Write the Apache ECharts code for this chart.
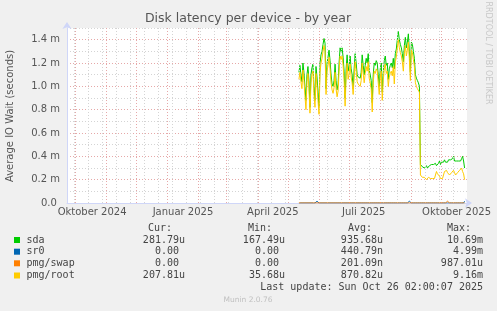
<!DOCTYPE html>
<html>
<head>
<meta charset="utf-8">
<script src="https://cdn.jsdelivr.net/npm/echarts@6/dist/echarts.min.js"></script>
<style>
html,body{margin:0;padding:0;background:#F0F0F0;}
#chart{width:497px;height:311px;}
</style>
</head>
<body>
<div id="chart"></div>
<script>
// x values are days counted from 1 Oct 2024; one sample per day starting at startDay
const startDay = 223;

const sda = [
1.12,1.18,1.10,1.04,1.20,1.12,1.00,0.88,1.10,1.17,
1.05,0.82,1.10,1.16,1.19,1.00,0.88,1.17,1.08,0.95,
0.82,1.20,1.27,1.30,1.36,1.41,1.37,0.98,1.20,1.25,
1.31,1.22,1.10,1.02,1.00,1.05,1.19,1.05,0.97,1.02,
1.20,1.33,1.30,1.33,1.25,1.13,0.90,1.15,1.27,1.13,
1.18,1.26,1.15,1.10,0.98,1.15,1.28,1.20,1.10,1.08,
1.09,1.07,1.12,1.27,1.18,1.10,1.18,1.24,1.20,1.28,
1.14,1.10,1.05,0.86,1.10,1.20,1.18,1.22,1.20,1.10,
1.00,1.15,1.20,0.95,1.12,1.22,1.26,1.18,1.20,1.06,
1.15,1.18,1.20,1.16,1.24,1.15,1.28,1.32,1.40,1.47,
1.40,1.36,1.33,1.28,1.21,1.35,1.42,1.33,1.38,1.45,
1.30,1.12,1.38,1.36,1.30,1.24,1.10,1.07,1.05,1.03,
1.00,0.33,0.32,0.31,0.32,0.30,0.31,0.32,0.30,0.31,
0.32,0.31,0.33,0.32,0.33,0.32,0.34,0.32,0.33,0.34,
0.36,0.33,0.35,0.36,0.35,0.37,0.35,0.36,0.35,0.37,
0.36,0.37,0.36,0.38,0.40,0.36,0.37,0.36,0.37,0.36,
0.37,0.36,0.38,0.40,0.36,0.30
];

const sr0 = [
0,0,0,0,0,0,0,0,0,0,
0,0,0,0,0,0,0,0,0.015,0,
0,0,0,0,0,0,0,0,0,0,
0,0,0,0,0,0,0,0.015,0,0,
0,0,0,0,0,0,0,0,0,0,
0,0,0,0,0,0,0,0,0,0,
0,0,0,0,0,0,0,0,0,0,
0,0,0,0,0,0,0,0,0,0,
0,0,0,0,0,0,0,0,0,0,
0,0,0,0,0,0,0,0,0,0,
0,0,0,0,0,0,0,0,0,0,
0.015,0,0,0,0,0,0,0,0,0,
0,0,0,0,0,0,0,0,0,0,
0,0,0,0,0,0,0,0,0,0,
0,0,0,0,0,0,0,0,0,0,
0,0,0,0,0,0,0,0,0,0,
0,0,0,0,0,0.015
];

const pmgSwap = [
0,0,0,0,0,0,0,0,0,0,
0,0,0,0,0,0,0,0,0,0,
0,0,0,0,0,0,0,0,0,0,
0,0,0,0,0,0,0,0,0,0,
0,0,0,0,0,0,0,0,0,0,
0,0,0,0,0,0,0,0,0,0,
0,0,0,0,0,0,0,0,0,0,
0,0,0,0,0,0,0,0,0,0,
0,0,0,0,0,0,0,0,0,0,
0,0,0,0,0,0,0,0,0,0,
0,0,0,0,0,0,0,0,0,0,
0,0,0,0,0,0,0,0,0,0,
0,0.015,0,0,0,0,0,0,0,0,
0,0,0,0,0,0,0,0,0,0,
0,0,0,0,0,0,0,0,0.015,0,
0,0,0,0,0,0,0,0,0,0,
0,0,0,0,0,0
];

const pmgRoot = [
1.06,1.12,1.04,0.98,1.14,1.05,0.92,0.80,1.04,1.11,
0.98,0.77,1.03,1.10,1.13,0.93,0.82,1.11,1.00,0.88,
0.76,1.12,1.20,1.24,1.30,1.35,1.30,0.93,1.13,1.18,
1.25,1.15,1.03,0.97,0.94,0.99,1.12,0.98,0.91,0.96,
1.13,1.26,1.23,1.26,1.18,1.06,0.83,1.08,1.20,1.06,
1.11,1.19,1.08,1.03,0.93,1.08,1.21,1.13,1.04,1.02,
1.03,1.00,1.05,1.20,1.11,1.03,1.11,1.17,1.13,1.21,
1.07,1.03,0.98,0.78,1.03,1.13,1.11,1.15,1.13,1.03,
0.93,1.08,1.13,0.88,1.05,1.15,1.19,1.11,1.13,1.00,
1.08,1.11,1.13,1.09,1.17,1.02,1.21,1.25,1.33,1.40,
1.33,1.29,1.26,1.21,1.13,1.28,1.35,1.26,1.31,1.38,
1.23,1.05,1.31,1.29,1.23,1.17,1.03,1.00,0.98,0.97,
0.95,0.24,0.24,0.22,0.21,0.22,0.21,0.20,0.21,0.22,
0.21,0.21,0.22,0.21,0.22,0.21,0.21,0.27,0.25,0.25,
0.23,0.21,0.22,0.21,0.22,0.27,0.27,0.28,0.26,0.25,
0.24,0.24,0.26,0.27,0.28,0.26,0.24,0.25,0.26,0.27,
0.28,0.28,0.30,0.27,0.25,0.20
];

// calendar grid (days from 1 Oct 2024)
const monthStartDays = [0,31,61,92,123,151,182,212,243,273,304,335,365];
const biweekDays = [-1,13,27,41,55,69,83,97,111,125,139,153,167,181,195,209,223,237,251,265,279,293,307,321,335,349,363,377];

const xTickDays = [17,107.5,197,287.5,380];
const xTickLabels = ['Oktober 2024','Januar 2025','April 2025','Juli 2025','Oktober 2025'];

const yTickValues = [0,0.2,0.4,0.6,0.8,1.0,1.2,1.4];
const yTickLabels = ['0.0 ','0.2 m','0.4 m','0.6 m','0.8 m','1.0 m','1.2 m','1.4 m'];

const legendNames = ['sda','sr0','pmg/swap','pmg/root'];
const legendColors = ['#00CC00','#0066B3','#FF8000','#FFCC00'];
const curVals = ['281.79u','0.00 ','0.00 ','207.81u'];
const minVals = ['167.49u','0.00 ','0.00 ','35.68u'];
const avgVals = ['935.68u','440.79n','201.09n','870.82u'];
const maxVals = ['10.69m','4.99m','987.01u','9.16m'];

const series = [sda, sr0, pmgSwap, pmgRoot];

const chart = echarts.init(document.getElementById('chart'), null, {renderer:'canvas'});

const fontSans = '"DejaVu Sans", sans-serif';
const fontMono = '"DejaVu Sans Mono", monospace';
const txtColor = '#555';

const graphic = [];
graphic.push({type:'text', x:248, y:19, style:{text:'Disk latency per device - by year', font:'12.5px '+fontSans, fill:txtColor, align:'center', verticalAlign:'middle'}});
graphic.push({type:'text', x:10, y:116, rotation:Math.PI/2, style:{text:'Average IO Wait (seconds)', font:'10px '+fontSans, fill:txtColor, align:'center', verticalAlign:'middle'}});
graphic.push({type:'text', x:488, y:53, rotation:-Math.PI/2, style:{text:'RRDTOOL / TOBI OETIKER', font:'8px '+fontSans, fill:'#C8C8C8', align:'center', verticalAlign:'middle'}});

const headerX = [148,248,348,447];
['Cur:','Min:','Avg:','Max:'].forEach((h,i)=>{
  graphic.push({type:'text', x:headerX[i], y:228.5, style:{text:h, font:'10px '+fontMono, fill:'#444', align:'left', verticalAlign:'middle'}});
});
const rowY = [240,251.7,263.3,275.5];
const colEnd = [185,285,383,483];
legendNames.forEach((n,i)=>{
  const y = rowY[i];
  graphic.push({type:'rect', shape:{x:14, y:y-3, width:6, height:6}, style:{fill:legendColors[i]}});
  graphic.push({type:'text', x:26.5, y:y, style:{text:n, font:'10px '+fontMono, fill:'#444', align:'left', verticalAlign:'middle'}});
  [curVals[i],minVals[i],avgVals[i],maxVals[i]].forEach((v,j)=>{
    graphic.push({type:'text', x:colEnd[j], y:y, style:{text:v, font:'10px '+fontMono, fill:'#444', align:'right', verticalAlign:'middle'}});
  });
});
graphic.push({type:'text', x:483, y:287.3, style:{text:'Last update: Sun Oct 26 02:00:07 2025', font:'10px '+fontMono, fill:'#444', align:'right', verticalAlign:'middle'}});
graphic.push({type:'text', x:248, y:300, style:{text:'Munin 2.0.76', font:'7.5px '+fontSans, fill:'#C0C0C0', align:'center', verticalAlign:'middle'}});

const gridSeries = {
  type:'line', data:[], silent:true, z:1,
  markLine:{
    silent:true, symbol:['none','none'], animation:false,
    label:{show:false},
    data: biweekDays.map(d=>({xAxis:d, lineStyle:{color:'#D4D4D4', type:[1,2], width:1}}))
      .concat(monthStartDays.map(d=>({xAxis:d, lineStyle:{color:'#E6A8A8', type:[1,2], width:1}})))
  }
};

const dataSeries = series.map((arr,k)=>({
  type:'line',
  name: legendNames[k],
  data: arr.map((v,i)=>[startDay+i, v]),
  showSymbol:false,
  symbol:'none',
  lineStyle:{color:legendColors[k], width:1},
  itemStyle:{color:legendColors[k]},
  z:3+k,
  animation:false,
  silent:true
}));

chart.setOption({
  backgroundColor:'#F0F0F0',
  animation:false,
  grid:{left:67, right:30, top:28, bottom:108, containLabel:false, show:true, backgroundColor:'#FFFFFF', borderWidth:0},
  xAxis:{
    type:'value', min:-8, max:390.4,
    axisLine:{show:true, onZero:true, lineStyle:{color:'#CFD6F8', width:1}, symbol:['none','arrow'], symbolSize:[7,7], symbolOffset:[0,5]},
    axisTick:{show:false},
    splitLine:{show:false},
    axisLabel:{
      customValues: xTickDays,
      formatter: v => { const i = xTickDays.findIndex(d=>Math.abs(d-v)<1e-6); return i>=0 ? xTickLabels[i] : ''; },
      color:txtColor, fontFamily:'DejaVu Sans', fontSize:10, margin:4, hideOverlap:false
    }
  },
  yAxis:{
    type:'value', min:0, max:1.5, interval:0.1,
    axisLine:{show:true, onZero:false, lineStyle:{color:'#CFD6F8', width:1}, symbol:['none','arrow'], symbolSize:[7,7], symbolOffset:[0,6]},
    axisTick:{show:false},
    splitLine:{show:true, lineStyle:{color:['#E6A8A8','#D4D4D4'], type:[1,2], width:1}},
    axisLabel:{
      formatter: v => { const i = yTickValues.findIndex(d=>Math.abs(d-v)<1e-6); return i>=0 ? yTickLabels[i] : ''; },
      color:txtColor, fontFamily:'DejaVu Sans', fontSize:10, margin:7, showMaxLabel:true
    }
  },
  graphic: graphic,
  series: [gridSeries].concat(dataSeries)
});
</script>
</body>
</html>
